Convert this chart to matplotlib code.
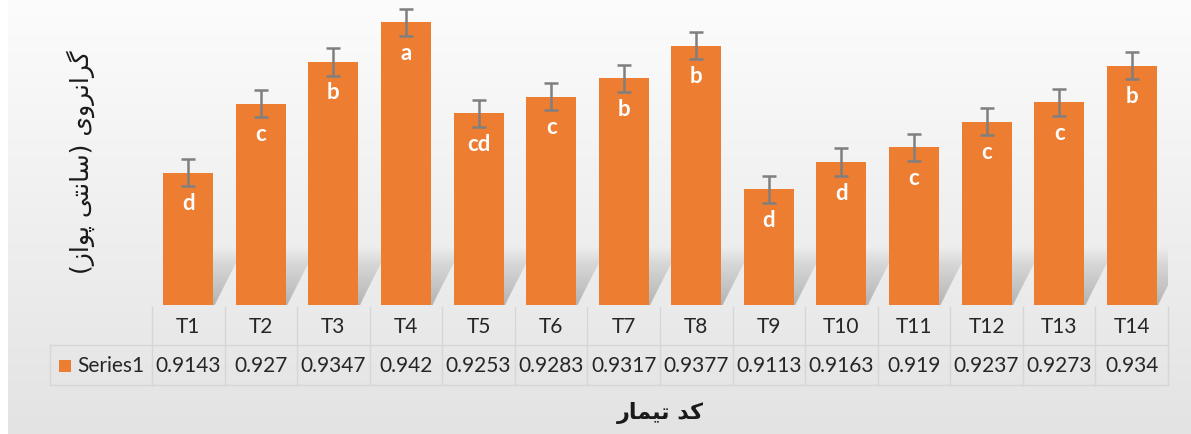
import numpy as np
import matplotlib
matplotlib.use("Agg")
import matplotlib.pyplot as plt
from matplotlib.patches import Polygon, Rectangle

# data
treatments = ["T1", "T2", "T3", "T4", "T5", "T6", "T7", "T8", "T9", "T10", "T11", "T12", "T13", "T14"]
viscosity = [0.9143, 0.927, 0.9347, 0.942, 0.9253, 0.9283, 0.9317, 0.9377, 0.9113, 0.9163, 0.919, 0.9237, 0.9273, 0.934]
value_labels = ["0.9143", "0.927", "0.9347", "0.942", "0.9253", "0.9283", "0.9317", "0.9377", "0.9113", "0.9163", "0.919", "0.9237", "0.9273", "0.934"]
err = [0.0025] * 14
letters = ["d", "c", "b", "a", "cd", "c", "b", "b", "d", "d", "c", "c", "c", "b"]
series_name = "Series1"
ylabel_fa = "گرانروی (سانتی پواز)"
xlabel_fa = "کد تیمار"

# tiny persian shaper (matplotlib has no arabic shaping)
FORMS = {
    "گ": ("\uFB92", "\uFB93", "\uFB94", "\uFB95"),
    "ک": ("\uFB8E", "\uFB8F", "\uFB90", "\uFB91"),
    "ن": ("\uFEE5", "\uFEE6", "\uFEE7", "\uFEE8"),
    "ی": ("\uFBFC", "\uFBFD", "\uFBFE", "\uFBFF"),
    "س": ("\uFEB1", "\uFEB2", "\uFEB3", "\uFEB4"),
    "ت": ("\uFE95", "\uFE96", "\uFE97", "\uFE98"),
    "پ": ("\uFB56", "\uFB57", "\uFB58", "\uFB59"),
    "م": ("\uFEE1", "\uFEE2", "\uFEE3", "\uFEE4"),
    "ر": ("\uFEAD", "\uFEAE", None, None),
    "ا": ("\uFE8D", "\uFE8E", None, None),
    "و": ("\uFEED", "\uFEEE", None, None),
    "ز": ("\uFEAF", "\uFEB0", None, None),
    "د": ("\uFEA9", "\uFEAA", None, None),
}


def shape(text):
    out = []
    for i, ch in enumerate(text):
        if ch not in FORMS:
            out.append(ch)
            continue
        prev = text[i - 1] if i > 0 else ""
        nxt = text[i + 1] if i + 1 < len(text) else ""
        jp = prev in FORMS and FORMS[prev][2] is not None
        jn = nxt in FORMS and FORMS[ch][2] is not None
        iso, fin, ini, med = FORMS[ch]
        if jp and jn:
            out.append(med)
        elif jp:
            out.append(fin)
        elif jn:
            out.append(ini)
        else:
            out.append(iso)
    return "".join(out)[::-1].translate(str.maketrans("()", ")("))


plt.rcParams["font.family"] = ["Lato", "DejaVu Sans"]
W, H = 1191, 434
fig = plt.figure(figsize=(W / 100, H / 100), dpi=100)
fig.patch.set_facecolor("white")

# gradient background
bg = fig.add_axes([8 / W, 0, 1 - 8 / W, 1], zorder=-5)
grad = np.linspace(0, 1, 256).reshape(-1, 1)
top, bot = np.array([252, 252, 252]) / 255, np.array([227, 227, 227]) / 255
img = top + (bot - top) * grad[:, :, None]
bg.imshow(img, aspect="auto", extent=[0, 1, 0, 1], origin="upper")
bg.axis("off")

ax = fig.add_axes([152 / W, 1 - 305 / H, (1168 - 152) / W, (305 - 6) / H])
ax.set_facecolor("none")
x = np.arange(len(treatments))
ymin = 0.89
bw = 0.69

# soft bar shadows (stacked faint layers)
n_layers = 24
for xi, v in zip(x, viscosity):
    for k in range(n_layers):
        f = (k + 1) / n_layers
        h = 0.0105 * f
        s = 0.42 * f
        poly = Polygon([(xi - bw / 2 + 0.05, ymin), (xi + bw / 2 + 0.02, ymin),
                        (xi + bw / 2 + s, ymin + h), (xi - bw / 2 + s, ymin + h)],
                       closed=True, facecolor="#5a5a5a", edgecolor="none", alpha=0.016, zorder=1)
        ax.add_patch(poly)

ax.bar(x, np.array(viscosity) - ymin, bottom=ymin, width=bw, color="#ED7D31", zorder=2)
ax.errorbar(x, viscosity, yerr=err, fmt="none", ecolor="#7f7f7f", elinewidth=1.8,
            capsize=5, capthick=1.8, zorder=3)
for xi, v, t in zip(x, viscosity, letters):
    ax.annotate(t, (xi, v), xytext=(0, -31), textcoords="offset pixels", ha="center", va="center",
                color="white", fontsize=16, fontweight="bold", zorder=4)

ax.set_xlim(-0.5, len(treatments) - 0.5)
ax.set_ylim(ymin, 0.945)
for sp in ax.spines.values():
    sp.set_visible(False)
ax.set_xticks([])
ax.set_yticks([])

# data table under the plot
tr = ax.get_xaxis_transform()
ax_h = 305 - 6
ypx = lambda p: (305 - p) / ax_h
line_c = "#d6d6d6"
left_x = -0.5 - (152 - 50) / (1016 / 14)
for b in np.arange(-0.5, len(treatments), 1.0):
    ax.plot([b, b], [ypx(307), ypx(385)], color=line_c, lw=1, transform=tr, clip_on=False)
ax.plot([left_x, left_x], [ypx(345), ypx(385)], color=line_c, lw=1, transform=tr, clip_on=False)
for yy in (345, 385):
    ax.plot([left_x, len(treatments) - 0.5], [ypx(yy), ypx(yy)], color=line_c, lw=1,
            transform=tr, clip_on=False)
for xi, t, lab in zip(x, treatments, value_labels):
    ax.text(xi, ypx(327), t, transform=tr, ha="center", va="center", fontsize=15, color="#262626")
    ax.text(xi, ypx(366), lab, transform=tr, ha="center", va="center", fontsize=15, color="#262626")
fig.patches.append(Rectangle((59 / W, 1 - 372 / H), 12 / W, 12 / H, transform=fig.transFigure,
                             facecolor="#ED7D31", edgecolor="none"))
fig.text(77 / W, 1 - 366 / H, series_name, ha="left", va="center", fontsize=15, color="#262626")

# persian axis titles
fig.text(660 / W, 1 - 413 / H, shape(xlabel_fa), ha="center", va="center", fontsize=16,
         fontweight="bold", family=["DejaVu Sans"], color="#1a1a1a")
fig.text(81 / W, 1 - 162 / H, shape(ylabel_fa), ha="center", va="center", rotation=90, fontsize=18,
         family=["DejaVu Sans"], color="#1a1a1a")

fig.savefig("out.png", dpi=100)
